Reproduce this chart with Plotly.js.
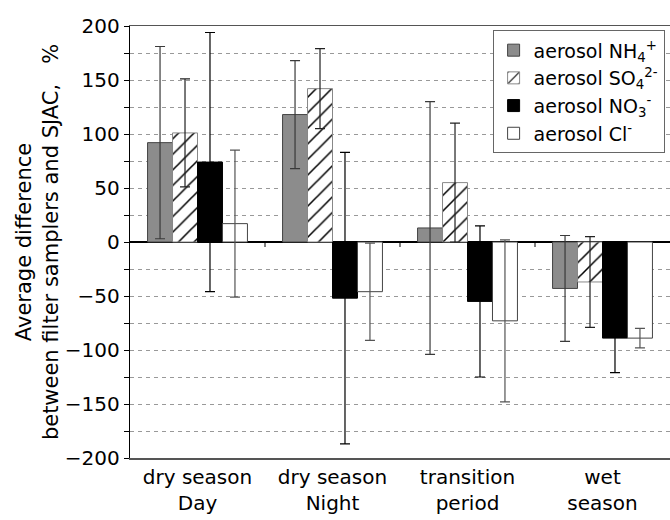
<!DOCTYPE html>
<html>
<head>
<meta charset="utf-8">
<script src="https://cdn.plot.ly/plotly-3.0.1.min.js"></script>
<style>html,body{margin:0;padding:0;background:#fff;}</style>
</head>
<body>
<div id="chart" style="width:670px;height:520px;"></div>
<script>
const categories = ["dry season<br>Day", "dry season<br>Night", "transition<br>period", "wet<br>season"];
const seriesNames = ["aerosol NH<sub>4</sub><sup>+</sup>", "aerosol SO<sub>4</sub><sup>2-</sup>", "aerosol NO<sub>3</sub><sup>-</sup>", "aerosol Cl<sup>-</sup>"];
const nh4 = [92, 118, 13, -43];
const nh4Err = [89, 50, 117, 49];
const so4 = [101, 142, 55, -37];
const so4Err = [50, 37, 55, 42];
const no3 = [74, -52, -55, -89];
const no3Err = [120, 135, 70, 32];
const cl = [17, -46, -73, -89];
const clErr = [68, 45, 75, 9];
const boundaries = [0.5, 1.5, 2.5];

const FONT = "DejaVu Sans, Liberation Sans, Arial, sans-serif";

function err(arr, color) {
  return {type: 'data', array: arr, symmetric: true, visible: true, color: color, thickness: 1.2, width: 5};
}

const traces = [
  {type: 'bar', name: seriesNames[0], x: categories, y: nh4,
   marker: {color: '#8c8c8c', line: {color: '#444', width: 1}},
   error_y: err(nh4Err, '#3a3a3a')},
  {type: 'bar', name: seriesNames[1], x: categories, y: so4,
   marker: {color: '#ffffff', line: {color: '#888', width: 1},
            pattern: {shape: '/', fgcolor: '#000', bgcolor: '#fff', size: 11, solidity: 0.14}},
   error_y: err(so4Err, '#222')},
  {type: 'bar', name: seriesNames[2], x: categories, y: no3,
   marker: {color: '#000000', line: {color: '#000', width: 1}},
   error_y: err(no3Err, '#000')},
  {type: 'bar', name: seriesNames[3], x: categories, y: cl,
   marker: {color: '#ffffff', line: {color: '#444', width: 1}},
   error_y: err(clErr, '#555')}
];

const shapes = boundaries.map(b => ({
  type: 'line', xref: 'x', yref: 'y', x0: b, x1: b,
  ysizemode: 'pixel', yanchor: 0, y0: 0, y1: -5,
  line: {color: '#000', width: 1}
}));

const layout = {
  width: 670, height: 520,
  margin: {l: 130, r: 0, t: 26, b: 62},
  paper_bgcolor: '#fff', plot_bgcolor: '#fff',
  font: {family: FONT, size: 20, color: '#000'},
  barmode: 'group', bargap: 0.26, bargroupgap: 0,
  showlegend: true,
  legend: {x: 0.99, xanchor: 'right', y: 0.99, yanchor: 'top',
           bgcolor: '#fff', bordercolor: '#666', borderwidth: 1,
           font: {family: FONT, size: 19, color: '#000'}, traceorder: 'normal'},
  xaxis: {
    type: 'category', range: [-0.5, 3.5],
    showline: true, mirror: true, linecolor: '#555', linewidth: 1.5,
    ticks: '', showgrid: false, zeroline: false,
    tickfont: {family: FONT, size: 20}
  },
  yaxis: {
    range: [-200, 200], tick0: 0, dtick: 50,
    ticks: 'outside', ticklen: 5, tickcolor: '#000', tickwidth: 1,
    showline: true, linecolor: '#000', linewidth: 1.2, mirror: false,
    showgrid: true, gridcolor: '#999', gridwidth: 1, griddash: '4px,4px',
    zeroline: true, zerolinecolor: '#000', zerolinewidth: 1.5,
    tickfont: {family: FONT, size: 20},
    minor: {dtick: 25, ticks: 'outside', ticklen: 5, tickcolor: '#000',
            showgrid: true, gridcolor: '#999', gridwidth: 1, griddash: '4px,4px'},
    title: {text: 'Average difference<br>between filter samplers and SJAC,\u00a0\u00a0\u00a0%',
            font: {family: FONT, size: 21}, standoff: 0}
  },
  shapes: shapes
};

Plotly.newPlot('chart', traces, layout, {staticPlot: true, displayModeBar: false});
</script>
</body>
</html>
